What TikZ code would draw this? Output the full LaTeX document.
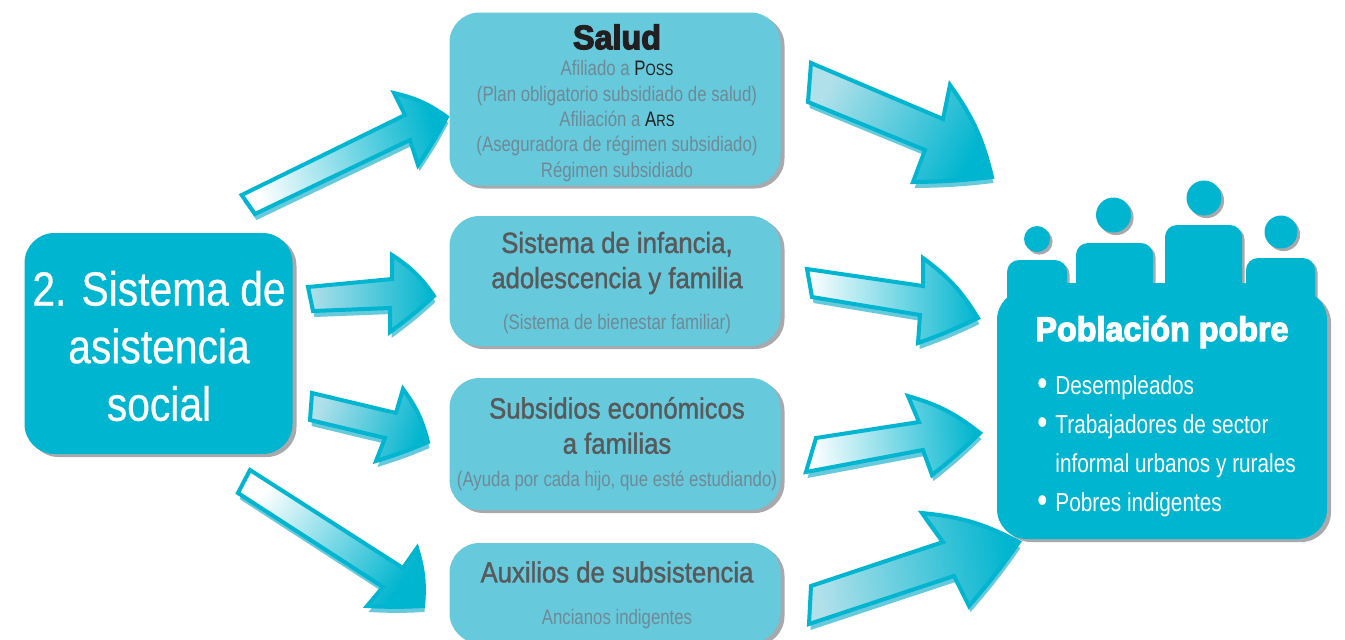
\documentclass[tikz,border=0pt]{standalone}
\usepackage{fontspec}
\usetikzlibrary{shadows}
\setmainfont[FakeStretch=0.80]{Liberation Sans}
\newfontfamily\heavy[FakeStretch=0.95,FakeBold=3.6]{Liberation Sans Bold}
\newfontfamily\medium[FakeStretch=0.88,FakeBold=1.2]{Liberation Sans}
\newfontfamily\wide[FakeStretch=0.85,FakeBold=0.5]{Liberation Sans}
\definecolor{teal}{HTML}{00B5CF}
\definecolor{paleteal}{HTML}{66C9DC}
\definecolor{shadowgray}{HTML}{A7A9AC}
\definecolor{softteal}{HTML}{B0E0EA}
\definecolor{darktext}{HTML}{58595B}
\definecolor{greytext}{HTML}{6F8A96}
\definecolor{ink}{HTML}{231F20}
\newcommand\px[2]{\fontsize{#1pt}{#2pt}\selectfont}
\newcommand\fatarrow[9]{%
  \fill[paleteal,shift={(1.5,6)}] (#3) -- (#4) -- (#5) to[bend left=11] (#6) to[bend left=3] (#7) -- (#8) -- (#9) -- cycle;
  \draw[arrowline,left color=#1,right color=teal,shading angle=#2] (#3) -- (#4) -- (#5) to[bend left=11] (#6) to[bend left=3] (#7) -- (#8) -- (#9) -- cycle;
}
\newcommand\dotmark{\makebox[9pt][l]{\raisebox{-0.6pt}{\px{18}{19.5}•}}}
\tikzset{
  arrowline/.style={draw=teal,line width=2pt,line join=miter,miter limit=3},
  softbox/.style={rectangle,rounded corners=15pt,fill=paleteal,inner sep=0pt,outer sep=0pt,
    general shadow={shadow xshift=2pt,shadow yshift=-1.5pt,fill=shadowgray}},
  strongbox/.style={softbox,fill=teal},
  titletext/.style={text=darktext,align=center,font=\medium\px{14.6}{17.6}},
  subtext/.style={text=greytext,align=center,font=\px{10.5}{12.65}},
  person/.style={rectangle,rounded corners=6pt,fill=teal,inner sep=0pt,outer sep=0pt,
    general shadow={shadow xshift=1.3pt,shadow yshift=-1.3pt,fill=shadowgray}},
  headdot/.style={circle,fill=teal,inner sep=0pt,outer sep=0pt,
    general shadow={shadow xshift=1.3pt,shadow yshift=-1.3pt,fill=shadowgray}},
}
\begin{document}
\begin{tikzpicture}[x=0.5pt,y=-0.5pt]
\useasboundingbox (0,0) rectangle (1345,639);
% arrows
\fatarrow{white}{105}{241.7,195}{405,115}{394,93}{447,117}{418,165}{410,140}{255,214}
\fatarrow{softteal}{90}{308,287}{392,279}{392,255}{434,296}{390,332}{390,308}{313,311}
\fatarrow{softteal}{70}{312,393}{396,413}{403,389}{428,442}{376,461}{385,438}{310,420}
\fatarrow{white}{55}{250,470}{403,568}{417,548}{423,606}{367,606}{383,587}{238,493}
\fatarrow{softteal}{60}{811,63}{943,119}{950,85}{992,177}{913,182}{925,150}{808,102}
\fatarrow{white}{90}{807,269}{923,286}{923,258}{978,318}{918,343}{920,315}{812,297}
\fatarrow{white}{95}{816,438}{919,422}{908,396}{980,433}{932,475}{923,450}{806,472}
\fatarrow{softteal}{100}{811,586}{943,542}{922,513}{1019,542}{969,606}{954,576}{809,624}
% left box
\node[strongbox,minimum width=134pt,minimum height=110.5pt] (sistema) at (158.5,343.5) {};
\node[text=white,align=center,font=\wide\px{24}{28.8}] (sistematxt) at (159,346) {2. Sistema de\\asistencia\\social};
% middle boxes
\node[softbox,minimum width=165.5pt,minimum height=86.5pt] (salud) at (615,99) {};
\node[softbox,minimum width=165.5pt,minimum height=65pt] (infancia) at (615,281) {};
\node[softbox,minimum width=165.5pt,minimum height=66pt] (subsidios) at (615,444) {};
\node[softbox,minimum width=165.5pt,minimum height=50pt] (auxilios) at (615,593) {};
% salud text
\node[text=ink,font=\heavy\px{17}{20}] (saludt) at (617,37) {Salud};
\node[subtext] (saluds) at (617,121) {Afiliado a {\color{ink}P{\px{8.2}{12.65}OSS}}\\(Plan obligatorio subsidiado de salud)\\Afiliación a {\color{ink}A{\px{8.2}{12.65}RS}}\\(Aseguradora de régimen subsidiado)\\Régimen subsidiado};
% infancia text
\node[titletext] (infanciat) at (617,263) {Sistema de infancia,\\adolescencia y familia};
\node[subtext] (infancias) at (617,324) {(Sistema de bienestar familiar)};
% subsidios text
\node[titletext] (subsidiost) at (617,425.5) {Subsidios económicos\\a familias};
\node[subtext] (subsidioss) at (617,481) {(Ayuda por cada hijo, que esté estudiando)};
% auxilios text
\node[titletext] (auxiliost) at (617,572) {Auxilios de subsistencia};
\node[subtext] (auxilioss) at (617,619) {Ancianos indigentes};
% right group
\node[headdot,minimum size=13pt] (h1) at (1037,239) {};
\node[headdot,minimum size=17.5pt] (h2) at (1113.5,215) {};
\node[headdot,minimum size=17.5pt] (h3) at (1204,198) {};
\node[headdot,minimum size=16.5pt] (h4) at (1281,232) {};
\node[person,minimum width=30pt,minimum height=30pt,anchor=north west] (p1) at (1007,260) {};
\node[person,minimum width=38.5pt,minimum height=35pt,anchor=north west] (p2) at (1076,243) {};
\node[person,minimum width=38.5pt,minimum height=45pt,anchor=north west] (p3) at (1165,225) {};
\node[person,minimum width=34.5pt,minimum height=30pt,anchor=north west] (p4) at (1246,258) {};
\node[strongbox,minimum width=165pt,minimum height=124.5pt] (poblacion) at (1162,414.5) {};
\node[rectangle,fill=teal,inner sep=0pt,outer sep=0pt,minimum width=154pt,minimum height=30pt,anchor=north west] (band) at (1007,283) {};
\node[text=white,font=\heavy\px{17}{20}] (poblaciont) at (1162,332) {Población pobre};
\node[text=white,align=left,inner sep=0pt,anchor=north west,font=\px{13}{19.5}] (lista) at (1037,375) {\dotmark Desempleados\\\dotmark Trabajadores de sector\\\makebox[9pt][l]{}informal urbanos y rurales\\\dotmark Pobres indigentes};
\end{tikzpicture}
\end{document}
